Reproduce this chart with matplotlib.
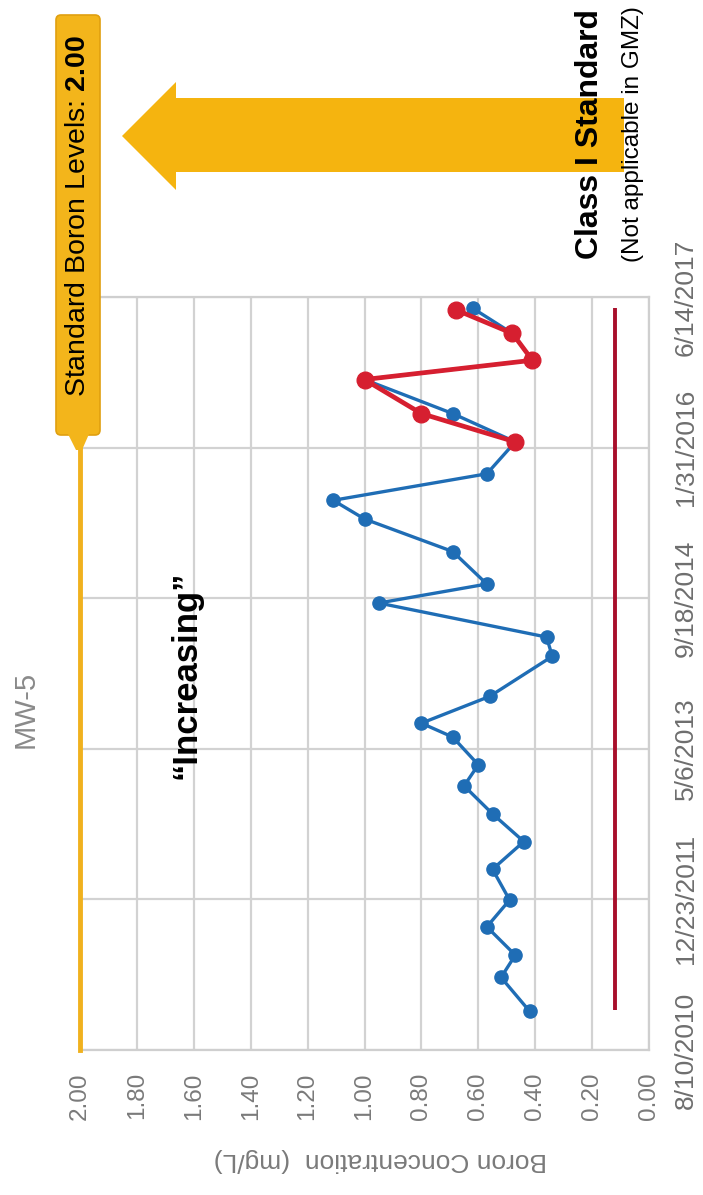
import matplotlib
matplotlib.use('Agg')
import matplotlib.pyplot as plt
import matplotlib.dates as mdates
import matplotlib.transforms as mtransforms
from matplotlib.patches import Polygon, FancyBboxPatch
import numpy as np
import pandas as pd

plt.rcParams['font.family'] = ['Liberation Sans', 'DejaVu Sans']
plt.rcParams['mathtext.fontset'] = 'custom'
plt.rcParams['mathtext.rm'] = 'Liberation Sans'
plt.rcParams['mathtext.bf'] = 'Liberation Sans:bold'

# well MW-5 boron results (mg/L)
blue_dates = ['2010-12-17', '2011-04-08', '2011-06-21', '2011-09-23', '2011-12-21',
              '2012-04-01', '2012-07-02', '2012-10-02', '2013-01-03', '2013-03-14',
              '2013-06-14', '2013-07-30', '2013-10-27', '2014-03-09', '2014-05-12',
              '2014-09-02', '2014-11-04', '2015-02-20', '2015-06-08', '2015-08-09',
              '2015-11-05', '2016-02-19', '2016-05-23', '2016-09-13', '2016-11-16',
              '2017-02-13', '2017-05-08']
blue_vals = [0.42, 0.52, 0.47, 0.57, 0.49, 0.55, 0.44, 0.55, 0.65, 0.60,
             0.69, 0.80, 0.56, 0.34, 0.36, 0.95, 0.57, 0.69, 1.00, 1.11,
             0.57, 0.47, 0.69, 1.00, 0.41, 0.48, 0.62]

red_dates = ['2016-02-19', '2016-05-23', '2016-09-13', '2016-11-16', '2017-02-13', '2017-05-03']
red_vals = [0.47, 0.80, 1.00, 0.41, 0.48, 0.68]

bg_dates = ['2010-12-20', '2017-05-10']
bg_vals = [0.12, 0.12]

std_level = 2.00
conc_ticks = [0.0, 0.2, 0.4, 0.6, 0.8, 1.0, 1.2, 1.4, 1.6, 1.8, 2.0]
date_ticks = ['2010-08-10', '2011-12-23', '2013-05-06', '2014-09-18', '2016-01-31', '2017-06-14']
date_labels = ['8/10/2010', '12/23/2011', '5/6/2013', '9/18/2014', '1/31/2016', '6/14/2017']

W, H = 703, 1195
fig = plt.figure(figsize=(W / 100, H / 100), dpi=100)
ax = fig.add_axes([80 / W, 1 - 1050 / H, (649 - 80) / W, (1050 - 297) / H])

def px(x, y):
    # pixel position measured from the top-left corner
    return (x, H - y)

pix = mtransforms.IdentityTransform()

bd = pd.to_datetime(blue_dates)
rd = pd.to_datetime(red_dates)
gd = pd.to_datetime(bg_dates)
dt = pd.to_datetime(date_ticks)

ax.plot(bg_vals, gd, color='#a80f2b', lw=2.8, solid_capstyle='butt', zorder=3)
ax.plot(blue_vals, bd, color='#1f6db5', lw=2.4, marker='o', markersize=9.5, zorder=4)
ax.plot(red_vals, rd, color='#d61f30', lw=3.4, marker='o', markersize=12, zorder=5)

ax.set_xlim(2.0, 0.0)
ax.set_ylim(dt[0], dt[-1])
ax.set_xticks(conc_ticks)
ax.set_xticklabels([f'{v:.2f}' for v in conc_ticks])
ax.set_yticks(dt)
ax.set_yticklabels(date_labels)
ax.yaxis.tick_right()
ax.tick_params(axis='x', length=0, pad=16, labelsize=17.5, labelcolor='#7a7a7a', labelrotation=90)
ax.tick_params(axis='y', length=0, pad=18, labelsize=19, labelcolor='#6e6e6e', labelrotation=90)
for lab in ax.get_yticklabels():
    lab.set_va('center')
ax.grid(True, color='#d2d2d2', lw=1.6)
ax.set_axisbelow(True)
for s in ['top', 'right', 'bottom']:
    ax.spines[s].set_color('#cfcfcf')
    ax.spines[s].set_linewidth(1.6)
ax.spines['left'].set_visible(False)

# standard level line, running up to the callout box
blend = mtransforms.blended_transform_factory(ax.transData, fig.transFigure)
ax.plot([std_level, std_level], [1 - 1050 / H, 1 - 445 / H], transform=blend,
        color='#f0b11e', lw=3.5, clip_on=False, zorder=6)

box = FancyBboxPatch(px(56, 435), 44, 420, boxstyle='round,pad=0,rounding_size=5',
                     transform=pix, facecolor='#f3b51b', edgecolor='#e0a010', lw=1.2, zorder=7)
fig.patches.append(box)
tab = Polygon([px(68, 434), px(89, 434), px(82, 450), px(76, 450)], closed=True,
              transform=pix, facecolor='#f3b51b', edgecolor='none', zorder=7)
fig.patches.append(tab)
fig.text(78 / W, 1 - 216 / H, 'Standard Boron Levels: $\\mathbf{2.00}$', rotation=90,
         ha='center', va='center', fontsize=20.5, color='black', zorder=8)

# big arrow pointing to the standard
arrow = Polygon([px(122, 136), px(176, 82), px(176, 98), px(624, 98), px(624, 172),
                 px(176, 172), px(176, 190)], closed=True, transform=pix,
                facecolor='#f5b40f', edgecolor='none', zorder=2)
fig.patches.append(arrow)

fig.text(590 / W, 1 - 259 / H, 'Class I Standard', rotation=90, rotation_mode='anchor',
         ha='left', va='center', fontsize=23, fontweight='bold', color='black', zorder=8)
fig.text(633 / W, 1 - 262 / H, '(Not applicable in GMZ)', rotation=90, rotation_mode='anchor',
         ha='left', va='center', fontsize=17.5, color='black', zorder=8)

fig.text(26 / W, 1 - 709 / H, 'MW-5', rotation=90, ha='center', va='center',
         fontsize=21, color='#8a8a8a')
fig.text(186 / W, 1 - 675 / H, '\u201cIncreasing\u201d', rotation=90, ha='center', va='center',
         fontsize=25, fontweight='bold', color='black')
fig.text(380 / W, 1 - 1160 / H, 'Boron Concentration  (mg/L)', rotation=180,
         ha='center', va='center', fontsize=19, color='#7a7a7a')

fig.savefig('out.png', dpi=100)
